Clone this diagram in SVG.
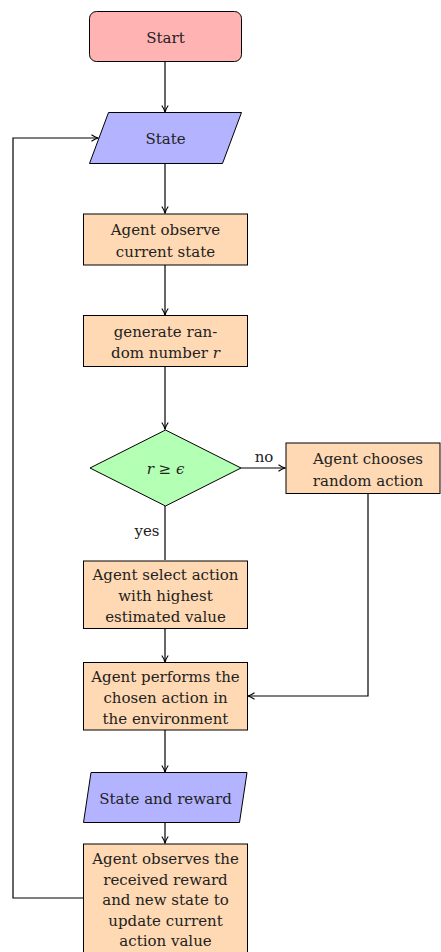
<svg xmlns="http://www.w3.org/2000/svg" width="441" height="952" viewBox="0 0 441 952">
<style>
.n{stroke:#000;stroke-width:1}
.red{fill:#ffb3b3}.blue{fill:#b3b3ff}.or{fill:#ffd9b3}.gr{fill:#b3ffb3}
.c{fill:none;stroke:#000;stroke-width:1.2}
</style>
<defs>
<marker id="a" markerWidth="10" markerHeight="10" refX="7" refY="4" orient="auto" markerUnits="userSpaceOnUse">
<path d="M0.5,0.8 Q4,3.2 7,4 Q4,4.8 0.5,7.2" fill="none" stroke="#000" stroke-width="1.1"/>
</marker>
</defs>
<g font-family="'DejaVu Serif', 'Liberation Serif', serif" font-size="15" fill="#222" text-anchor="middle">
<g id="connectors">
<path class="c" d="M165,62V112" marker-end="url(#a)"/>
<path class="c" d="M165,163V213" marker-end="url(#a)"/>
<path class="c" d="M165,265V315" marker-end="url(#a)"/>
<path class="c" d="M165,366V429" marker-end="url(#a)"/>
<path class="c" d="M241,468H285" marker-end="url(#a)"/>
<path class="c" d="M165,506V560"/>
<path class="c" d="M165,628V662" marker-end="url(#a)"/>
<path class="c" d="M368,493V696H248" marker-end="url(#a)"/>
<path class="c" d="M165,730V772" marker-end="url(#a)"/>
<path class="c" d="M165,823V843" marker-end="url(#a)"/>
<path class="c" d="M83,898H13V138H98" marker-end="url(#a)"/>
<text x="264" y="462">no</text>
<text x="147" y="536">yes</text>
</g>
<g id="start">
<rect class="n red" x="89.5" y="11.5" width="152" height="50" rx="7"/>
<text x="165.5" y="43">Start</text>
</g>
<g id="state">
<polygon class="n blue" points="108.5,112.5 241.5,112.5 222.5,163.5 89.5,163.5"/>
<text x="165.5" y="144">State</text>
</g>
<g id="observe">
<rect class="n or" x="83.5" y="214" width="164" height="51"/>
<text x="165.5" y="235">Agent observe</text>
<text x="165.5" y="256.5">current state</text>
</g>
<g id="generate">
<rect class="n or" x="83.5" y="315.5" width="164" height="51"/>
<text x="165.5" y="336.5">generate ran-</text>
<text x="165.5" y="358">dom number <tspan font-style="italic">r</tspan></text>
</g>
<g id="decision">
<polygon class="n gr" points="165.5,430 241,468 165.5,506 90,468"/>
<text x="165.5" y="473.5"><tspan font-style="italic">r</tspan> ≥ <tspan font-style="italic">ϵ</tspan></text>
</g>
<g id="random">
<rect class="n or" x="286" y="443" width="154" height="50.5"/>
<text x="368" y="464">Agent chooses</text>
<text x="368" y="485.5">random action</text>
</g>
<g id="select">
<rect class="n or" x="83.5" y="561" width="164" height="67.5"/>
<text x="165.5" y="580">Agent select action</text>
<text x="165.5" y="600.5">with highest</text>
<text x="165.5" y="621.5">estimated value</text>
</g>
<g id="perform">
<rect class="n or" x="83.5" y="662.5" width="164" height="67.5"/>
<text x="165.5" y="682">Agent performs the</text>
<text x="165.5" y="702.5">chosen action in</text>
<text x="165.5" y="723.5">the environment</text>
</g>
<g id="stateReward">
<polygon class="n blue" points="91,772.5 247,772.5 239.5,822.5 83.5,822.5"/>
<text x="165.5" y="804">State and reward</text>
</g>
<g id="update">
<rect class="n or" x="83.5" y="844" width="164" height="112"/>
<text x="165.5" y="864">Agent observes the</text>
<text x="165.5" y="884.5">received reward</text>
<text x="165.5" y="905">and new state to</text>
<text x="165.5" y="925.5">update current</text>
<text x="165.5" y="946">action value</text>
</g>
</g>
</svg>
